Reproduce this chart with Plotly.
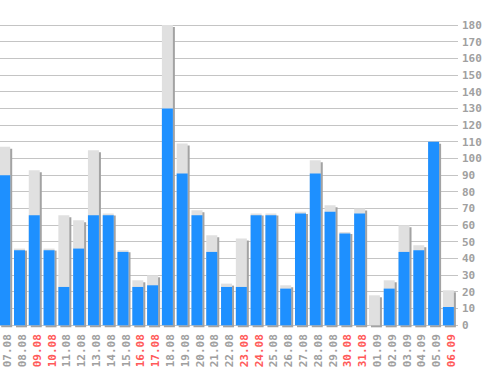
import plotly.graph_objects as go

dates = ['07.08', '08.08', '09.08', '10.08', '11.08', '12.08', '13.08', '14.08',
         '15.08', '16.08', '17.08', '18.08', '19.08', '20.08', '21.08', '22.08',
         '23.08', '24.08', '25.08', '26.08', '27.08', '28.08', '29.08', '30.08',
         '31.08', '01.09', '02.09', '03.09', '04.09', '05.09', '06.09']
weekend = ['09.08', '10.08', '16.08', '17.08', '23.08', '24.08', '30.08', '31.08', '06.09']
blue_vals = [90, 45, 66, 45, 23, 46, 66, 66, 44, 23, 24, 130, 91, 66, 44, 23,
             23, 66, 66, 22, 67, 91, 68, 55, 67, 0, 22, 44, 45, 110, 11]
total_vals = [107, 46, 93, 46, 66, 63, 105, 67, 45, 27, 30, 180, 109, 69, 54, 25,
              52, 67, 67, 24, 68, 99, 72, 56, 70, 18, 27, 60, 48, 110, 21]
y_ticks = list(range(0, 190, 10))

x = list(range(len(dates)))
BW = 0.744
SHIFT = 0.135
ticktext = [f"<span style='color:#ff5a5a'>{d}</span>" if d in weekend else d for d in dates]

fig = go.Figure()
fig.add_trace(go.Bar(x=x, y=total_vals, base=-1.2, width=BW, offset=-BW / 2 + SHIFT,
                     marker=dict(color='#a3a3a3', line=dict(width=0)), hoverinfo='skip'))
fig.add_trace(go.Bar(x=x, y=total_vals, width=BW, offset=-BW / 2,
                     marker=dict(color='#e0e0e0', line=dict(width=0))))
fig.add_trace(go.Bar(x=x, y=blue_vals, width=BW, offset=-BW / 2,
                     marker=dict(color='#1e90ff', line=dict(width=0))))

fig.update_layout(
    width=498, height=370,
    margin=dict(l=0, r=40, t=22, b=41, pad=0),
    barmode='overlay', showlegend=False,
    paper_bgcolor='white', plot_bgcolor='white',
    font=dict(family='DejaVu Sans Mono', size=11, color='#a0a0a0', weight='bold'),
)
fig.update_xaxes(
    range=[-0.318, 30.65], tickmode='array', tickvals=x, ticktext=ticktext,
    tickangle=-90, showgrid=False, zeroline=False, showline=False, ticks='',
    ticklabelshift=3, ticklabelstandoff=2, automargin=False,
    tickfont=dict(family='DejaVu Sans Mono', size=11, color='#a0a0a0', weight='bold'),
)
fig.update_yaxes(
    range=[-2.2, 181.8], side='right', tickmode='array', tickvals=y_ticks,
    showgrid=True, gridcolor='#c4c4c4', gridwidth=1,
    zeroline=False, showline=False, ticks='', ticklabelstandoff=3, automargin=False,
    tickfont=dict(family='DejaVu Sans Mono', size=11, color='#a0a0a0', weight='bold'),
)
fig.write_html("out.html")
